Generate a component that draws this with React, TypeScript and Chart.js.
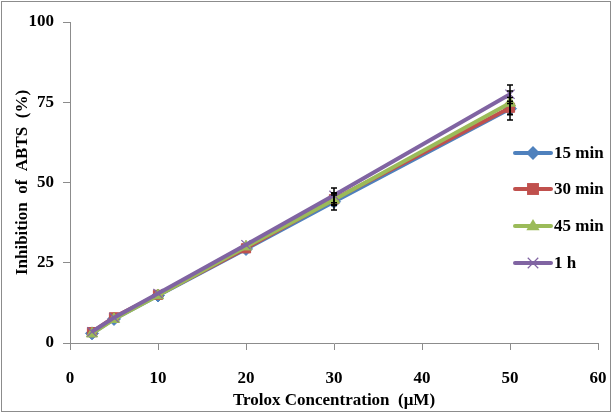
import { useEffect, useRef } from "react";
import { Chart, registerables } from "chart.js";

Chart.register(...registerables);

const concentrations = [2.5, 5, 10, 20, 30, 50];
const seriesNames = ["15 min", "30 min", "45 min", "1 h"];
const min15 = [3.0, 7.5, 14.8, 29.3, 44.0, 73.0];
const min30 = [3.4, 8.0, 15.0, 29.5, 44.8, 73.3];
const min45 = [2.9, 7.4, 14.8, 30.0, 44.6, 74.8];
const hour1 = [3.5, 7.9, 15.4, 30.6, 46.0, 77.5];
const err15 = [0.3, 0.3, 0.4, 0.5, 2.6, 3.5];
const err30 = [0.3, 0.3, 0.4, 0.5, 2.0, 2.0];
const err45 = [0.3, 0.3, 0.4, 0.5, 1.5, 3.7];
const err1h = [0.3, 0.3, 0.4, 0.5, 2.3, 2.9];
const xTicks = [0, 10, 20, 30, 40, 50, 60];
const yTicks = [0, 25, 50, 75, 100];

const colors = ["#4F81BD", "#C0504D", "#9BBB59", "#8064A2"];
const markers = ["rectRot", "rect", "triangle", "crossRot"];
const FONT = "'Liberation Serif', 'DejaVu Serif', serif";

function drawMarker(ctx: CanvasRenderingContext2D, style: string, x: number, y: number, r: number, color: string) {
  ctx.save();
  ctx.fillStyle = color;
  ctx.strokeStyle = color;
  ctx.beginPath();
  if (style === "rectRot") {
    ctx.moveTo(x, y - r);
    ctx.lineTo(x + r, y);
    ctx.lineTo(x, y + r);
    ctx.lineTo(x - r, y);
    ctx.closePath();
    ctx.fill();
  } else if (style === "rect") {
    const s = r * 0.85;
    ctx.rect(x - s, y - s, 2 * s, 2 * s);
    ctx.fill();
  } else if (style === "triangle") {
    ctx.moveTo(x, y - r);
    ctx.lineTo(x + r * 0.95, y + r * 0.6);
    ctx.lineTo(x - r * 0.95, y + r * 0.6);
    ctx.closePath();
    ctx.fill();
  } else {
    const s = r * 0.75;
    ctx.lineWidth = 1.2;
    ctx.moveTo(x - s, y - s);
    ctx.lineTo(x + s, y + s);
    ctx.moveTo(x + s, y - s);
    ctx.lineTo(x - s, y + s);
    ctx.stroke();
  }
  ctx.restore();
}

export default function App() {
  const ref = useRef<HTMLCanvasElement | null>(null);
  useEffect(() => {
    document.body.style.margin = "0";
    const values = [min15, min30, min45, hour1];
    const errs = [err15, err30, err45, err1h];
    const datasets = values.map((vals, i) => ({
      label: seriesNames[i],
      data: concentrations.map((x, j) => ({ x, y: vals[j] })),
      errs: errs[i],
      borderColor: colors[i],
      backgroundColor: colors[i],
      pointBackgroundColor: colors[i],
      pointBorderColor: colors[i],
      borderWidth: 4,
      showLine: true,
      order: 3 - i,
      pointStyle: markers[i],
      pointRadius: 6.5,
      pointBorderWidth: markers[i] === "crossRot" ? 1.2 : 1,
    }));

    const errorBars = {
      id: "errorBars",
      afterDatasetsDraw(chart: any) {
        const { ctx, scales } = chart;
        ctx.save();
        ctx.strokeStyle = "#000";
        ctx.lineWidth = 1.5;
        chart.data.datasets.forEach((ds: any) => {
          ds.data.forEach((p: any, j: number) => {
            const e = ds.errs[j];
            if (e < 1) return;
            const px = scales.x.getPixelForValue(p.x);
            const y1 = scales.y.getPixelForValue(p.y - e);
            const y2 = scales.y.getPixelForValue(p.y + e);
            ctx.beginPath();
            ctx.moveTo(px, y1);
            ctx.lineTo(px, y2);
            ctx.moveTo(px - 3, y1);
            ctx.lineTo(px + 3, y1);
            ctx.moveTo(px - 3, y2);
            ctx.lineTo(px + 3, y2);
            ctx.stroke();
          });
        });
        ctx.restore();
      },
    };

    const legendAndBorder = {
      id: "legendAndBorder",
      afterDraw(chart: any) {
        const { ctx } = chart;
        ctx.save();
        ctx.strokeStyle = "#8c8c8c";
        ctx.lineWidth = 1;
        ctx.strokeRect(1.5, 1.5, chart.width - 3, chart.height - 4);
        const x0 = 515;
        const x1 = 551;
        const ys = [153, 189, 226, 263];
        chart.data.datasets.forEach((ds: any, i: number) => {
          const y = ys[i];
          ctx.strokeStyle = colors[i];
          ctx.lineWidth = 4;
          ctx.lineCap = "round";
          ctx.beginPath();
          ctx.moveTo(x0, y);
          ctx.lineTo(x1, y);
          ctx.stroke();
          ctx.lineCap = "butt";
          drawMarker(ctx, markers[i], (x0 + x1) / 2, y, 7, colors[i]);
          ctx.fillStyle = "#000";
          ctx.font = `bold 17px ${FONT}`;
          ctx.textBaseline = "middle";
          ctx.textAlign = "left";
          ctx.fillText(ds.label, 554, y + 1);
        });
        ctx.restore();
      },
    };

    const chart = new Chart(ref.current as HTMLCanvasElement, {
      type: "scatter",
      data: { datasets: datasets as any },
      plugins: [errorBars, legendAndBorder],
      options: {
        animation: false,
        responsive: false,
        devicePixelRatio: 1,
        layout: { padding: { left: 3, right: 0, top: 22, bottom: 0 } },
        plugins: { legend: { display: false }, tooltip: { enabled: false } },
        scales: {
          x: {
            type: "linear",
            min: 0,
            max: 60,
            afterBuildTicks: (s: any) => {
              s.ticks = xTicks.map((v) => ({ value: v }));
            },
            afterFit: (s: any) => {
              s.height = 71;
              s.paddingRight = 14;
              s.paddingLeft = 0;
            },
            grid: { drawOnChartArea: false, drawTicks: true, tickLength: 7, color: "#8c8c8c" },
            border: { color: "#8c8c8c", width: 1 },
            ticks: { padding: 18, color: "#000", font: { family: FONT, size: 17, weight: "bold" } },
            title: {
              display: true,
              text: "Trolox Concentration  (μM)",
              color: "#000",
              font: { family: FONT, size: 17, weight: "bold" },
              padding: { top: 0, bottom: 3 },
            },
          },
          y: {
            type: "linear",
            min: 0,
            max: 100,
            afterBuildTicks: (s: any) => {
              s.ticks = yTicks.map((v) => ({ value: v }));
            },
            afterFit: (s: any) => {
              s.width = 67;
            },
            grid: { drawOnChartArea: false, drawTicks: true, tickLength: 7, color: "#8c8c8c" },
            border: { color: "#8c8c8c", width: 1 },
            ticks: { padding: 9, color: "#000", font: { family: FONT, size: 17, weight: "bold" } },
            title: {
              display: true,
              text: "Inhibition  of  ABTS  (%)",
              color: "#000",
              font: { family: FONT, size: 17, weight: "bold" },
              padding: { top: 9, bottom: 0 },
            },
          },
        },
      } as any,
    });
    return () => chart.destroy();
  }, []);
  return <canvas ref={ref} width={612} height={414} style={{ display: "block" }} />;
}
